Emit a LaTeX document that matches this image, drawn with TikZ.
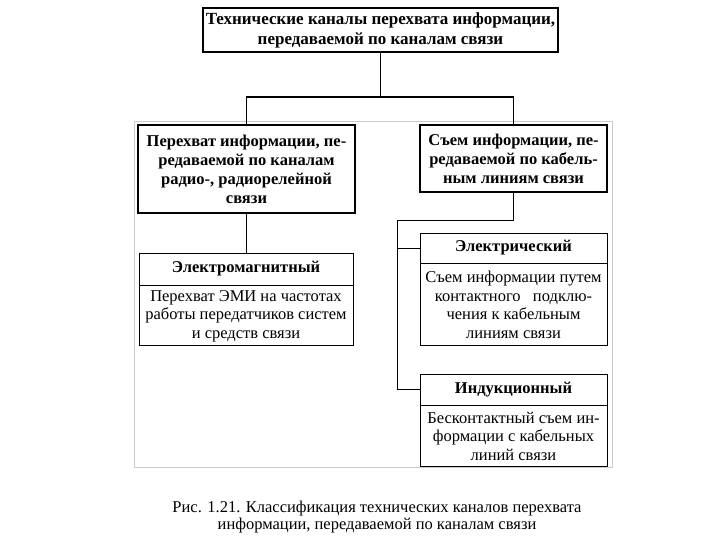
\documentclass[tikz,border=0pt]{standalone}
\usepackage{fontspec}
\setmainfont{Liberation Serif}
\usetikzlibrary{positioning,calc}

\tikzset{
  mainbox/.style={draw,line width=2.4pt,align=center,inner sep=0pt,font=\bfseries\fontsize{16.5}{19}\selectfont},
  headbox/.style={draw,line width=0.9pt,align=center,inner sep=0pt,font=\bfseries\fontsize{16.5}{18}\selectfont},
  bodybox/.style={draw,line width=0.9pt,align=center,inner sep=0pt,font=\fontsize{16.5}{18.5}\selectfont},
  bus/.style={line width=1.8pt},
  link/.style={line width=0.9pt}
}

\begin{document}
\begin{tikzpicture}[x=1pt,y=-1pt]
  \useasboundingbox (0,0) rectangle (720,540);
  \draw[black!20,line width=1pt] (134,122) rectangle (612,467);
  \node[mainbox,minimum width=355pt,minimum height=44pt,font=\bfseries\fontsize{17}{20}\selectfont] (top) at (380.5,30)
    {Технические каналы перехвата информации,\\передаваемой по каналам связи};
  \node[mainbox,minimum width=217pt,minimum height=88pt] (radio) at (246.5,169)
    {Перехват информации, пе-\\редаваемой по каналам\\радио-, радиорелейной\\связи};
  \node[mainbox,minimum width=187pt,minimum height=67pt] (cable) at (513.5,158.5)
    {Съем информации, пе-\\редаваемой по кабель-\\ным линиям связи};
  \node[headbox,minimum width=214pt,minimum height=32pt] (emh) at (246,269) {Электромагнитный};
  \node[bodybox,minimum width=214pt,minimum height=60pt,below=0pt of emh] (emb)
    {Перехват ЭМИ на частотах\\работы передатчиков систем\\и средств связи};
  \node[headbox,minimum width=187pt,minimum height=30pt] (elh) at (513.5,248) {Электрический};
  \node[bodybox,minimum width=187pt,minimum height=82pt,below=0pt of elh] (elb)
    {Съем информации путем\\контактного \ \ подклю-\\чения к кабельным\\линиям связи};
  \node[headbox,minimum width=187pt,minimum height=31pt] (indh) at (513.5,389.5) {Индукционный};
  \node[bodybox,minimum width=187pt,minimum height=61pt,below=0pt of indh] (indb)
    {Бесконтактный съем ин-\\формации с кабельных\\линий связи};
  \coordinate (split) at (380.5,97);
  \coordinate (tap) at (397,220);
  \draw[bus] (top.south) -- (split);
  \draw[bus] (split) -| (radio.north);
  \draw[bus] (split) -| (cable.north);
  \draw[link] (radio.south) -- (radio.south |- emh.north);
  \draw[link] (cable.south) -- (cable.south |- tap) -- (tap) |- (indh.west);
  \draw[link] (tap |- elh.west) -- (elh.west);
  \node[align=center,font=\fontsize{16.5}{16.5}\selectfont] (caption) at (377,517)
    {Рис. 1.21. Классификация технических каналов перехвата\\информации, передаваемой по каналам связи};
\end{tikzpicture}
\end{document}
